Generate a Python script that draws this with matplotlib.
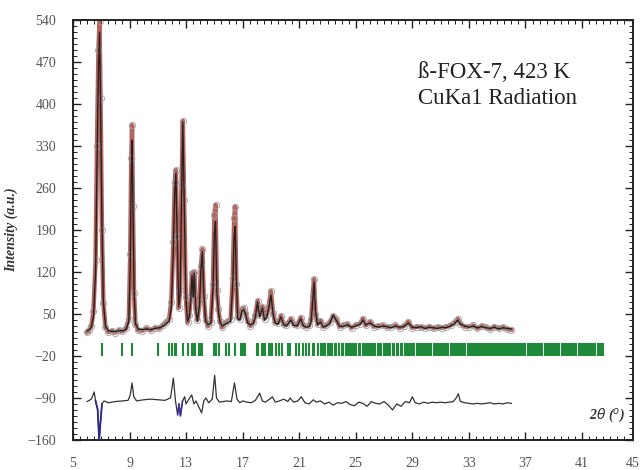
import numpy as np
import matplotlib.pyplot as plt
from matplotlib.ticker import MultipleLocator

# 2theta positions of the profile vertices, observed and calculated intensity
two_theta = [6.0, 6.15, 6.3, 6.45, 6.6, 6.7, 6.8, 6.88, 6.95, 7.05, 7.15, 7.3, 7.5, 7.75,
             8.0, 8.25, 8.5, 8.75, 8.95, 9.05, 9.12, 9.18, 9.24, 9.32, 9.42, 9.6,
             9.9, 10.2, 10.5, 10.8, 11.1, 11.4, 11.6, 11.8, 11.95, 12.1, 12.2, 12.28,
             12.36, 12.48, 12.58, 12.68, 12.77, 12.86, 12.98, 13.1, 13.22,
             13.32, 13.42, 13.5, 13.58, 13.68, 13.8, 13.95, 14.05, 14.15, 14.25, 14.38,
             14.55, 14.75, 14.9, 15.0, 15.08, 15.18, 15.28, 15.4, 15.55, 15.75, 15.95,
             16.15, 16.3, 16.4, 16.47, 16.55, 16.65, 16.8, 16.95, 17.08, 17.2, 17.35,
             17.55, 17.75,
             17.9, 18.05, 18.2, 18.4, 18.55, 18.7, 18.85, 19.0, 19.15, 19.3, 19.5, 19.7,
             19.9, 20.1, 20.4, 20.6, 20.85, 21.1, 21.3, 21.5, 21.7, 21.85, 21.95, 22.05,
             22.15, 22.3, 22.5, 22.7,
             22.9, 23.15, 23.4, 23.6, 23.85, 24.1, 24.4, 24.7, 25.0, 25.3, 25.5, 25.7,
             26.0, 26.3, 26.6, 26.9, 27.2, 27.5, 27.8, 28.1, 28.4, 28.7, 29.0, 29.3,
             29.6, 29.9, 30.2, 30.5, 30.8, 31.1, 31.4, 31.7, 32.0, 32.2, 32.4, 32.7,
             33.0, 33.3, 33.6, 33.9, 34.2, 34.5, 34.8, 35.1, 35.4, 35.7, 36.0]

y_calc = [22, 24, 28, 45, 120, 300, 460, 520, 400, 200, 70, 30, 22, 21,
          21, 22, 22, 24, 38, 130, 280, 340, 240, 90, 34, 25,
          24, 25, 24, 26, 27, 30, 34, 38, 60, 160, 255, 285,
          190, 62, 85, 245, 370, 250, 80, 38, 45,
          70, 115, 78, 118, 58, 38, 65, 125, 154, 85, 38,
          32, 35, 90, 185, 204, 85, 55, 36, 30, 33, 35,
          38, 100, 180, 196, 110, 42, 40, 55, 57, 50, 35,
          32, 34,
          45, 70, 45, 60, 40, 45, 60, 82, 50, 35, 33, 45,
          32, 30, 40, 31, 30, 42, 30, 28, 29, 38, 70, 104,
          55, 32, 37, 28,
          30, 34, 48, 40, 30, 29, 32, 28, 30, 33, 40, 32,
          35, 30, 28, 30, 29, 27, 30, 28, 29, 35, 28, 27,
          29, 26, 28, 27, 26, 28, 27, 30, 34, 40, 33, 30,
          28, 30, 27, 29, 27, 26, 28, 25, 27, 26, 25]

y_obs = [20, 23, 30, 55, 140, 330, 490, 538, 410, 190, 68, 28, 20, 22,
         19, 23, 21, 26, 42, 150, 310, 365, 230, 85, 34, 23,
         22, 26, 23, 27, 26, 32, 36, 42, 70, 170, 270, 290,
         180, 60, 90, 265, 372, 240, 78, 36, 48,
         75, 118, 82, 120, 60, 40, 70, 130, 158, 80, 40,
         30, 37, 100, 215, 232, 90, 58, 38, 28, 35, 38,
         42, 110, 210, 229, 100, 45, 42, 58, 60, 52, 38,
         30, 36,
         48, 72, 48, 62, 42, 48, 64, 88, 52, 36, 35, 47,
         33, 32, 42, 33, 31, 44, 31, 29, 31, 42, 80, 108,
         50, 33, 39, 29,
         31, 36, 47, 42, 29, 31, 33, 27, 32, 34, 42, 31,
         37, 29, 30, 31, 28, 29, 31, 27, 30, 37, 27, 29,
         28, 27, 29, 26, 28, 27, 29, 31, 36, 42, 34, 29,
         29, 31, 26, 30, 28, 25, 29, 26, 28, 25, 24]

# difference curve (offset)
diff_tt = [6.0, 6.3, 6.5, 6.6, 6.75, 6.85, 6.95, 7.05, 7.2, 7.5, 8.0, 8.5, 8.9, 9.05,
           9.18, 9.3, 9.5, 10.0, 10.5, 11.0, 11.5, 11.9, 12.1, 12.25, 12.4, 12.5,
           12.6, 12.75, 12.9, 13.0, 13.2, 13.4, 13.55, 13.7, 13.9, 14.1, 14.25, 14.4,
           14.6, 14.85, 15.02, 15.15, 15.35, 15.6, 15.9, 16.2, 16.42, 16.6, 16.8,
           17.0, 17.3, 17.6, 17.9, 18.2, 18.4, 18.6, 18.9, 19.1, 19.3, 19.6, 19.9,
           20.2, 20.35, 20.6, 20.9, 21.15, 21.4, 21.7, 22.0, 22.2, 22.5, 22.8, 23.1,
           23.4, 23.7, 24.0, 24.3, 24.6, 24.9, 25.2, 25.5, 25.8, 26.1, 26.4, 26.7,
           27.0, 27.3, 27.6, 27.9, 28.2, 28.5, 28.8, 29.0, 29.2, 29.5, 29.8, 30.1,
           30.4, 30.7, 31.0, 31.3, 31.6, 31.9, 32.1, 32.25, 32.4, 32.7, 33.0, 33.3,
           33.6, 33.9, 34.2, 34.5, 34.8, 35.1, 35.4, 35.7, 36.0]
diff_y = [-96, -92, -80, -95, -110, -160, -130, -100, -95, -98, -96, -95, -94, -85,
          -65, -88, -95, -93, -92, -93, -94, -90, -57, -95, -118, -100,
          -120, -95, -88, -100, -92, -85, -100, -95, -105, -115, -95, -90,
          -98, -92, -52, -90, -97, -96, -95, -96, -65, -92, -98,
          -95, -97, -98, -94, -82, -95, -97, -92, -88, -97, -95, -92,
          -96, -90, -97, -95, -88, -98, -100, -93, -97, -95, -100, -97,
          -102, -98, -99, -96, -101, -103, -97, -99, -104, -96, -99, -100,
          -96, -102, -110, -100, -104, -96, -98, -88, -98, -100, -97, -99,
          -97, -98, -97, -98, -97, -96, -90, -83, -96, -98, -99, -100,
          -99, -100, -99, -98, -100, -99, -100, -98, -99]

# Bragg reflection positions
reflections = [7.03, 8.5, 9.2, 11.0, 11.8, 11.97, 12.25, 12.32, 12.78, 13.1, 13.45, 13.55,
               13.65, 13.9, 14.05, 14.15, 15.0, 15.1, 15.3, 15.8, 16.0, 16.45, 16.9, 17.05,
               17.2, 18.0, 18.1, 18.35, 18.45, 18.6, 18.85, 19.0, 19.1, 19.35, 19.6, 19.75,
               20.2, 20.35, 20.8, 21.0, 21.3, 21.45, 21.7, 21.95, 22.05, 22.3, 22.55, 22.7,
               22.85, 23.0, 23.2, 23.35, 23.5, 23.6, 23.8, 24.0, 24.1, 24.3, 24.45, 24.6,
               24.75, 24.9, 25.05, 25.2, 25.3, 25.5, 25.65, 25.8, 25.9, 26.1, 26.2, 26.35,
               26.55, 26.7, 26.8, 27.0, 27.15, 27.25, 27.45, 27.6, 27.7, 27.9, 28.0, 28.2,
               28.3, 28.45, 28.6, 28.75, 28.85, 29.0, 29.15, 29.3, 29.4, 29.55, 29.7, 29.8,
               29.95, 30.1, 30.2, 30.35, 30.5, 30.6, 30.75, 30.9, 31.0, 31.15, 31.3, 31.4,
               31.55, 31.7, 31.8, 31.95, 32.1, 32.2, 32.35, 32.5, 32.6, 32.75, 32.9, 33.0,
               33.15, 33.3, 33.4, 33.55, 33.7, 33.8, 33.95, 34.1, 34.2, 34.35, 34.5, 34.6,
               34.75, 34.9, 35.0, 35.15, 35.3, 35.4, 35.55, 35.7, 35.8, 35.95, 36.1, 36.2,
               36.35, 36.5, 36.6, 36.75, 36.9, 37.0, 37.15, 37.3, 37.4, 37.55, 37.7, 37.8,
               37.95, 38.1, 38.2, 38.35, 38.5, 38.6, 38.75, 38.9, 39.0, 39.15, 39.3, 39.4,
               39.55, 39.7, 39.8, 39.95, 40.1, 40.2, 40.35, 40.5, 40.6, 40.75, 40.9, 41.0,
               41.15, 41.3, 41.4, 41.55, 41.7, 41.8, 41.95, 42.1, 42.2, 42.35, 42.5]

x_ticks = [5, 9, 13, 17, 21, 25, 29, 33, 37, 41]
y_ticks = [540, 470, 400, 330, 260, 190, 120, 50, -20, -90, -160]

serif = ['Liberation Serif', 'DejaVu Serif']

fig = plt.figure(figsize=(6.4, 4.7), dpi=100)
ax = fig.add_axes([0.114, 0.064, 0.875, 0.893])

# observed: dark red band with faint circles
ax.plot(two_theta, y_obs, color='#952219', lw=3.2, alpha=0.7, zorder=2)
ax.plot(two_theta, y_obs, 'o', ms=4.5, mfc='none', mec='#a0a0a0', mew=0.8, alpha=0.8, zorder=2)
ax.plot(two_theta, y_calc, color='#222222', lw=1.0, zorder=3)
ax.vlines(reflections, -20, 2, color='#1f8a3a', lw=1.5, zorder=2)
ax.plot(diff_tt, diff_y, color='#333333', lw=0.9, zorder=3)
ax.plot(diff_tt[3:8], diff_y[3:8], color='#2b2a8a', lw=1.3, zorder=4)
ax.plot(diff_tt[24:28], diff_y[24:28], color='#3a2f9a', lw=1.1, zorder=4)

ax.set_xlim(5, 44.6)
ax.set_ylim(-160, 540)
ax.set_xticks(x_ticks)
ax.set_yticks(y_ticks)
ax.xaxis.set_minor_locator(MultipleLocator(0.5))
ax.yaxis.set_minor_locator(MultipleLocator(10))
ax.tick_params(which='both', direction='in', top=True, right=True, colors='#222222',
               labelcolor='#555555', labelsize=10, width=1.0)
ax.tick_params(which='major', length=6)
ax.tick_params(which='minor', length=3, width=0.7)
ax.tick_params(axis='y', pad=12)
ax.tick_params(axis='x', pad=12)
for lab in ax.get_xticklabels() + ax.get_yticklabels():
    lab.set_family(serif)
for sp in ax.spines.values():
    sp.set_linewidth(1.4)
    sp.set_color('#222222')

# last x label sits at the figure edge
ax.annotate('45', xy=(1.0, 0.0), xycoords='axes fraction', xytext=(4.5, -12),
            textcoords='offset points', ha='right', va='top', color='#555555',
            fontsize=10, family=serif, annotation_clip=False)

ax.set_ylabel('Intensity (a.u.)', family=serif, fontsize=10, fontweight='bold',
              fontstyle='italic', color='#333333', labelpad=7)
ax.text(0.985, 0.035, r'2$\theta$ ($^o$)', transform=ax.transAxes, ha='right', va='bottom',
        fontsize=10, fontweight='bold', fontstyle='italic', family=serif, color='#333333')
ax.text(0.616, 453, 'ß-FOX-7, 423 K', transform=ax.get_yaxis_transform(), ha='left',
        va='center', fontsize=16.5, family=serif, color='#222222')
ax.text(0.616, 410, 'CuKa1 Radiation', transform=ax.get_yaxis_transform(), ha='left',
        va='center', fontsize=16.5, family=serif, color='#222222')

fig.savefig('out.png', dpi=100)
